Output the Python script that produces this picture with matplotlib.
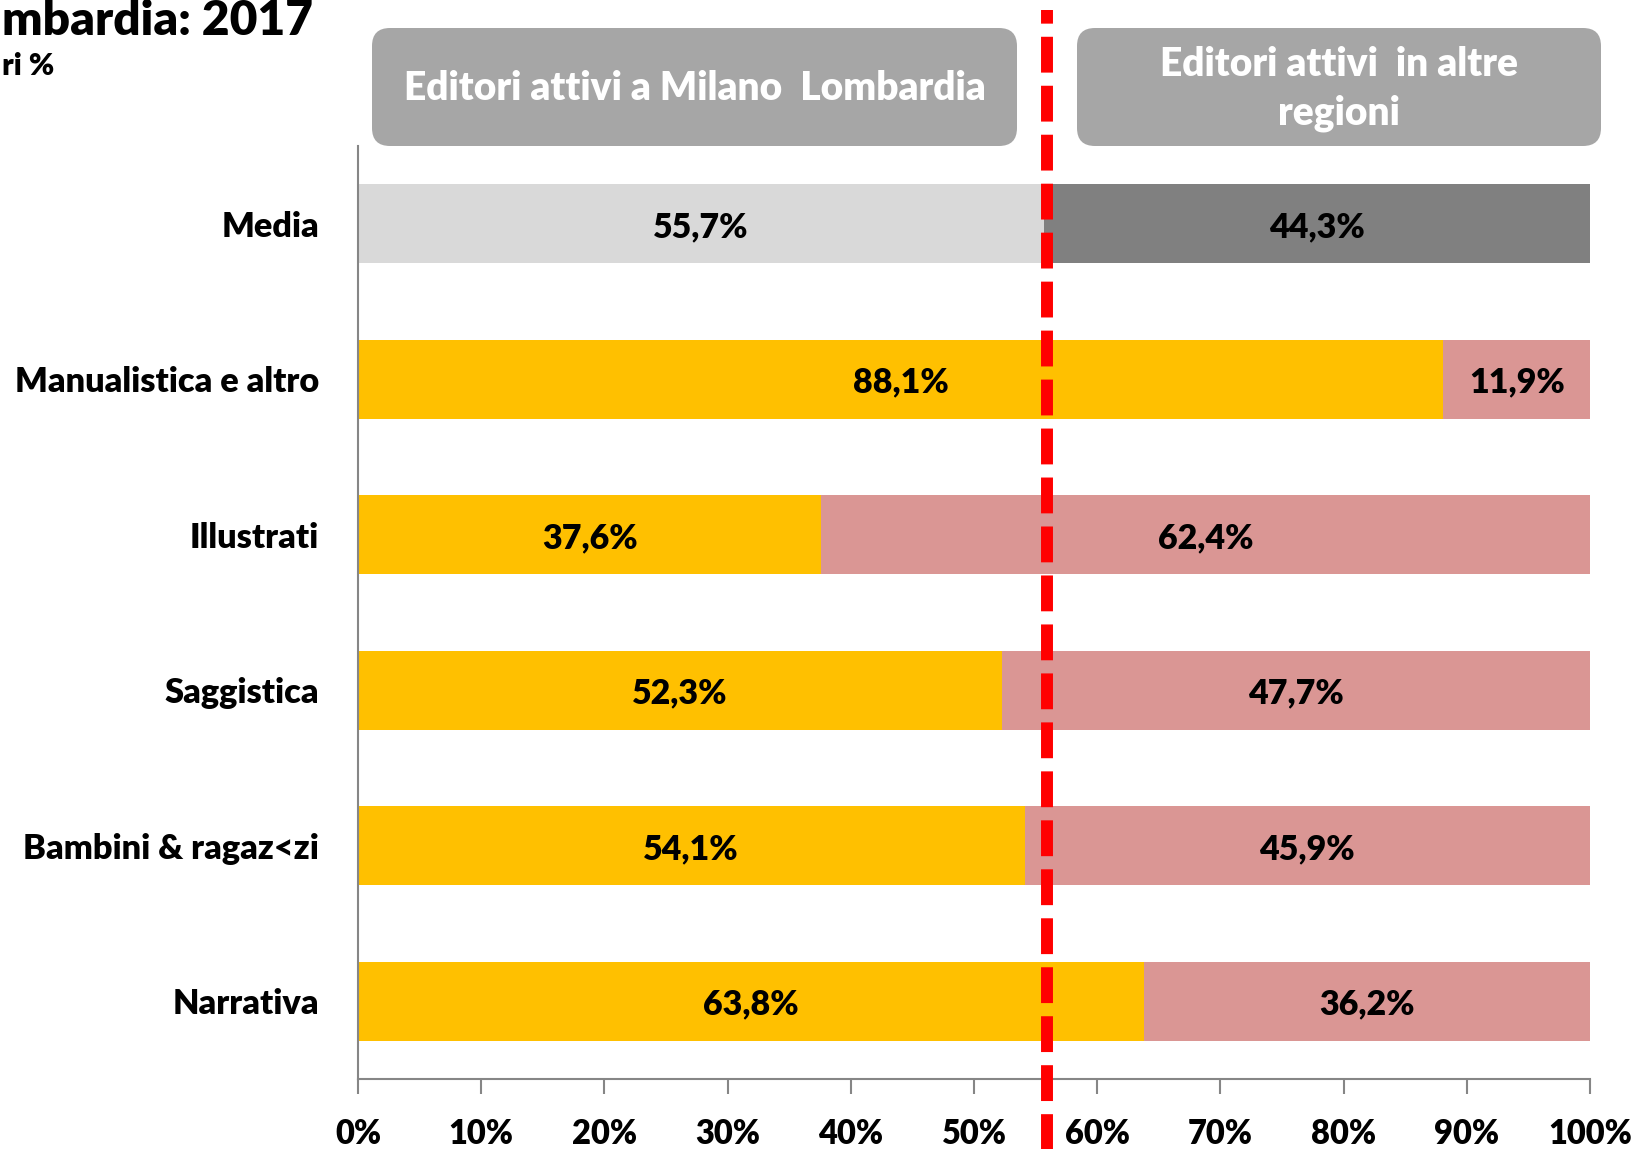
import matplotlib
matplotlib.use("Agg")
import matplotlib.pyplot as plt
from matplotlib.patches import FancyBboxPatch
from matplotlib.transforms import IdentityTransform, blended_transform_factory

plt.rcParams['font.family'] = ['Lato', 'DejaVu Sans']

categories = ["Media", "Manualistica e altro", "Illustrati", "Saggistica",
              "Bambini & ragaz<zi", "Narrativa"]
milano = [55.7, 88.1, 37.6, 52.3, 54.1, 63.8]
altre = [44.3, 11.9, 62.4, 47.7, 45.9, 36.2]
xticks = [0, 10, 20, 30, 40, 50, 60, 70, 80, 90, 100]
xtick_labels = [f"{t}%" for t in xticks]
ref_line = 55.9
title_text = "mbardia: 2017"
subtitle_text = "ri %"
box_left_text = "Editori attivi a Milano  Lombardia"
box_right_text = "Editori attivi  in altre\nregioni"

W, H = 1635, 1149
WEIGHT = "heavy"
fig = plt.figure(figsize=(W / 100, H / 100), dpi=100)
ax = fig.add_axes([358 / W, 1 - 1079 / H, (1590 - 358) / W, (1079 - 146) / H])

n = len(categories)
ypos = list(range(n - 1, -1, -1))
col_m = ["#D9D9D9"] + ["#FFC000"] * (n - 1)
col_a = ["#808080"] + ["#DA9694"] * (n - 1)

ax.barh(ypos, milano, height=0.51, color=col_m, zorder=2)
ax.barh(ypos, altre, left=milano, height=0.51, color=col_a, zorder=2)

def fmt(v):
    return f"{v:.1f}%".replace(".", ",")

for y, m, a in zip(ypos, milano, altre):
    ax.text(m / 2, y - 0.02, fmt(m), ha="center", va="center", fontsize=24.5,
            fontweight=WEIGHT, color="black", zorder=5)
    ax.text(m + a / 2, y - 0.02, fmt(a), ha="center", va="center", fontsize=24.5,
            fontweight=WEIGHT, color="black", zorder=5)

ax.set_xlim(0, 100)
ax.set_ylim(-0.5, n - 0.5)
ax.set_xticks(xticks)
ax.set_xticklabels(xtick_labels, fontsize=23.5, fontweight=WEIGHT)
ax.set_yticks(ypos)
ax.set_yticklabels(categories, fontsize=24.7, fontweight=WEIGHT)
ax.tick_params(axis="y", length=0, pad=28)
ax.tick_params(axis="x", length=11, width=1.5, color="#868686", pad=17, direction="out")
for s in ["top", "right"]:
    ax.spines[s].set_visible(False)
for s in ["left", "bottom"]:
    ax.spines[s].set_color("#868686")
    ax.spines[s].set_linewidth(1.5)

# red dashed reference line
tr = blended_transform_factory(ax.transData, ax.transAxes)
ax.plot([ref_line, ref_line], [-0.08, 1.146], transform=tr, color="#FF0000",
        lw=8.6, linestyle=(0, (3, 1.1)), clip_on=False, zorder=6,
        solid_capstyle="butt", dash_capstyle="butt")

# header boxes (pixel coords, origin bottom-left)
def add_box(x0, x1, ytop, ybot, text):
    b = FancyBboxPatch((x0, H - ybot), x1 - x0, ybot - ytop,
                       boxstyle="round,pad=0,rounding_size=18",
                       facecolor="#A6A6A6", edgecolor="none",
                       transform=IdentityTransform())
    fig.add_artist(b)
    fig.text((x0 + x1) / 2 / W, 1 - ((ytop + ybot) / 2 + 2) / H, text,
             ha="center", va="center", fontsize=28, fontweight=WEIGHT,
             color="white", linespacing=1.38)

add_box(372, 1017, 28, 146, box_left_text)
add_box(1077, 1601, 28, 146, box_right_text)

fig.text(2 / W, 1 - 21 / H, title_text, ha="left", va="center", fontsize=34.5,
         fontweight=WEIGHT, color="black")
fig.text(2 / W, 1 - 66 / H, subtitle_text, ha="left", va="center", fontsize=22,
         fontweight=WEIGHT, color="black")

fig.savefig("out.png", dpi=100)
